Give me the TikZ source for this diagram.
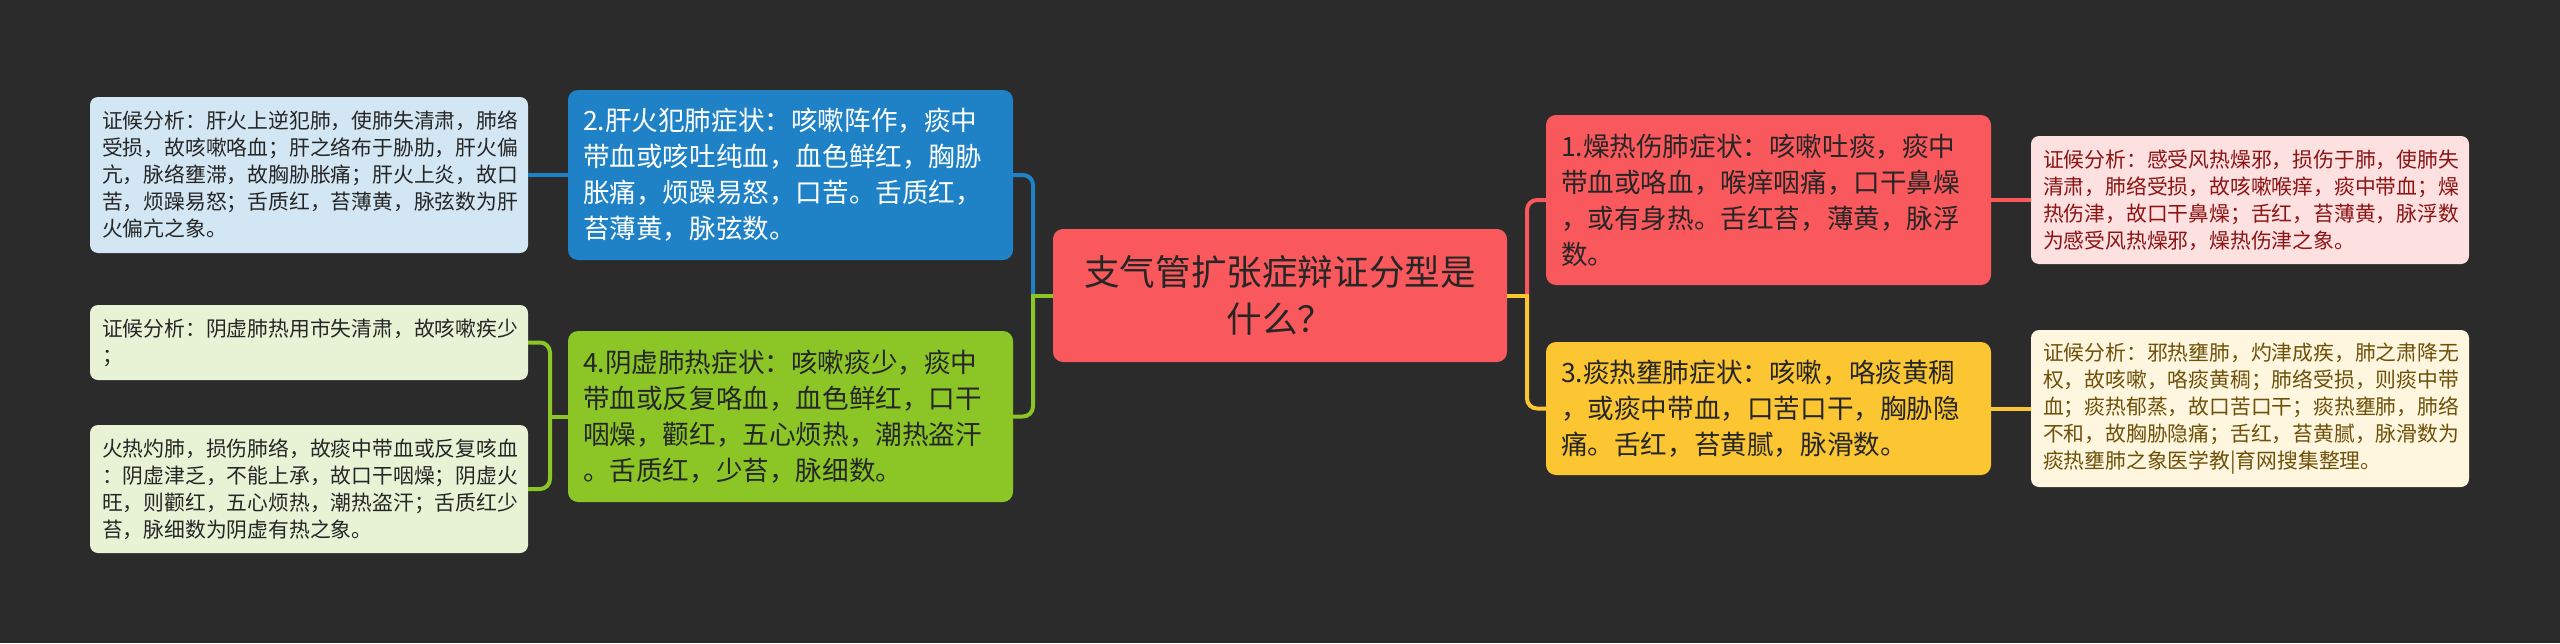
\documentclass[tikz,border=0pt]{standalone}
\usepackage{fontspec}
\setmainfont{Noto Sans CJK SC}
\definecolor{bgc}{HTML}{2B2B2B}
\definecolor{redc}{HTML}{F9585C}
\definecolor{bluec}{HTML}{1F82C7}
\definecolor{greenc}{HTML}{8BC626}
\definecolor{yellowc}{HTML}{FBC632}
\definecolor{lblue}{HTML}{D2E6F3}
\definecolor{lgreen}{HTML}{E8F3D6}
\definecolor{lpink}{HTML}{FDE0E0}
\definecolor{lyellow}{HTML}{FEF6DE}
\definecolor{pinktext}{HTML}{8C1414}
\definecolor{yeltext}{HTML}{6E500A}
\definecolor{darktext}{HTML}{262626}
\tikzset{
  leafbox/.style={rounded corners=8pt, inner xsep=12pt, inner ysep=0pt, align=left,
    text width=414pt, minimum height=#1, font=\fontsize{20.8}{27}\selectfont, text=darktext},
  branchbox/.style={rounded corners=10pt, inner xsep=15pt, inner ysep=0pt, align=left,
    text width=415pt, minimum height=#1, font=\fontsize{26.6}{36}\selectfont, text=darktext},
  conn/.style={line width=4pt, rounded corners=10pt},
  stem/.style={line width=4pt},
}
\begin{document}
\begin{tikzpicture}[x=1pt,y=-1pt]
\fill[bgc] (0,0) rectangle (2560,643);
\useasboundingbox (0,0) rectangle (2560,643);

% center
\node[fill=redc, rounded corners=10pt, text=darktext, align=center, minimum width=454pt,
  minimum height=133pt, inner sep=0pt, font=\fontsize{35.6}{47}\selectfont] (C) at (1280,295.5)
  {支气管扩张症辩证分型是\\什么？};

% branches
\node[branchbox=170pt, fill=bluec, text=white] (B2) at (790.5,175)
  {2.肝火犯肺症状：咳嗽阵作，痰中\\带血或咳吐纯血，血色鲜红，胸胁\\胀痛，烦躁易怒，口苦。舌质红，\\苔薄黄，脉弦数。};
\node[branchbox=171pt, fill=greenc] (B4) at (790.5,416.5)
  {4.阴虚肺热症状：咳嗽痰少，痰中\\带血或反复咯血，血色鲜红，口干\\咽燥，颧红，五心烦热，潮热盗汗\\。舌质红，少苔，脉细数。};
\node[branchbox=170pt, fill=redc] (B1) at (1768.5,200)
  {1.燥热伤肺症状：咳嗽吐痰，痰中\\带血或咯血，喉痒咽痛，口干鼻燥\\，或有身热。舌红苔，薄黄，脉浮\\数。};
\node[branchbox=133pt, fill=yellowc] (B3) at (1768.5,408.5)
  {3.痰热壅肺症状：咳嗽，咯痰黄稠\\，或痰中带血，口苦口干，胸胁隐\\痛。舌红，苔黄腻，脉滑数。};

% leaves
\node[leafbox=156pt, fill=lblue] (L1) at (309,175)
  {证候分析：肝火上逆犯肺，使肺失清肃，肺络\\受损，故咳嗽咯血；肝之络布于胁肋，肝火偏\\亢，脉络壅滞，故胸胁胀痛；肝火上炎，故口\\苦，烦躁易怒；舌质红，苔薄黄，脉弦数为肝\\火偏亢之象。};
\node[leafbox=75pt, fill=lgreen] (L2) at (309,342.5)
  {证候分析：阴虚肺热用市失清肃，故咳嗽疾少\\；};
\node[leafbox=128pt, fill=lgreen] (L3) at (309,489)
  {火热灼肺，损伤肺络，故痰中带血或反复咳血\\：阴虚津乏，不能上承，故口干咽燥；阴虚火\\旺，则颧红，五心烦热，潮热盗汗；舌质红少\\苔，脉细数为阴虚有热之象。};
\node[leafbox=128pt, fill=lpink, text=pinktext] (R1) at (2250,200)
  {证候分析：感受风热燥邪，损伤于肺，使肺失\\清肃，肺络受损，故咳嗽喉痒，痰中带血；燥\\热伤津，故口干鼻燥；舌红，苔薄黄，脉浮数\\为感受风热燥邪，燥热伤津之象。};
\node[leafbox=157pt, fill=lyellow, text=yeltext] (R2) at (2250,408.5)
  {证候分析：邪热壅肺，灼津成疾，肺之肃降无\\权，故咳嗽，咯痰黄稠；肺络受损，则痰中带\\血；痰热郁蒸，故口苦口干；痰热壅肺，肺络\\不和，故胸胁隐痛；舌红，苔黄腻，脉滑数为\\痰热壅肺之象医学教|育网搜集整理。};

% junctions
\coordinate (jl) at (1033,295.5);
\coordinate (jr) at (1527,295.5);
\coordinate (j4) at (550,416.5);

% connectors
\draw[conn, bluec] (jl) |- (B2.east);
\draw[conn, greenc] (jl) |- (B4.east);
\draw[stem, greenc] (C.west) -- ([xshift=-2pt]jl);
\draw[conn, redc] (jr) |- (B1.west);
\draw[conn, yellowc] (jr) |- (B3.west);
\draw[stem, yellowc] (C.east) -- ([xshift=2pt]jr);
\draw[conn, greenc] (j4) |- (L2.east);
\draw[conn, greenc] (j4) |- (L3.east);
\draw[stem, greenc] (B4.west) -- ([xshift=-2pt]j4);
\draw[stem, bluec] (B2.west) -- (L1.east);
\draw[stem, redc] (B1.east) -- (R1.west);
\draw[stem, yellowc] (B3.east) -- (R2.west);
\end{tikzpicture}
\end{document}
